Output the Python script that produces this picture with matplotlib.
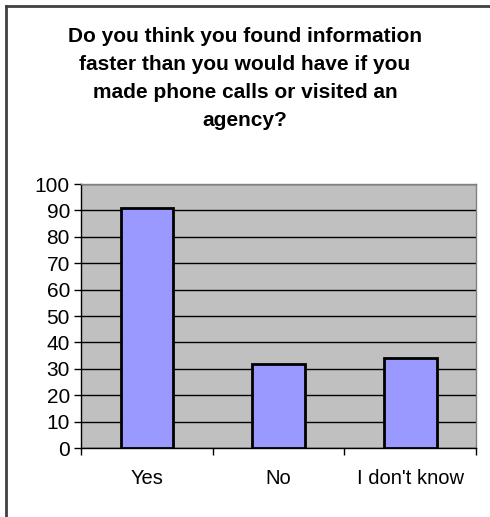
import numpy as np
import matplotlib
matplotlib.use('Agg')
from matplotlib import pyplot as plt
from matplotlib.lines import Line2D

categorias = ['Yes', 'No', "I don't know"]
valores = [91, 32, 34]
titulo = 'Do you think you found information\nfaster than you would have if you\nmade phone calls or visited an\nagency?'

plt.rcParams['font.family'] = ['Liberation Sans', 'DejaVu Sans']

fig = plt.figure(figsize=(4.9, 5.17), dpi=100)
ax = fig.add_axes([81/490, 1-448/517, 395/490, 264/517])

x = np.arange(len(categorias))
ax.set_facecolor('#C0C0C0')
ax.set_axisbelow(True)
ax.yaxis.grid(True, color='black', linewidth=1)
ax.bar(x, valores, width=0.4, color='#9999FF', edgecolor='black', linewidth=2, zorder=3)

ax.set_xlim(-0.5, len(categorias)-0.5)
ax.set_ylim(0, 100)
ax.set_yticks(np.arange(0, 101, 10))

# ticks between categories, labels centered under bars
ax.set_xticks(np.arange(-0.5, len(categorias), 1))
ax.set_xticklabels([])
ax.set_xticks(x, minor=True)
ax.set_xticklabels(categorias, minor=True)
ax.tick_params(axis='x', which='major', direction='out', length=5, width=1, color='black')
ax.tick_params(axis='x', which='minor', length=0, pad=15, labelsize=14.5)
ax.tick_params(axis='y', direction='out', length=5, width=1, labelsize=15, pad=3)

for s in ['top', 'right']:
    ax.spines[s].set_color('#808080')
    ax.spines[s].set_linewidth(1)
for s in ['left', 'bottom']:
    ax.spines[s].set_color('black')
    ax.spines[s].set_linewidth(1)

fig.text(0.5, 1-27/517, titulo, ha='center', va='top', fontsize=15,
         fontweight='bold', linespacing=1.6)

# chart frame
fig.add_artist(Line2D([6/490, 6/490], [0, 1-5.5/517], color='#404040', linewidth=2))
fig.add_artist(Line2D([6/490, 1], [1-5.5/517, 1-5.5/517], color='#404040', linewidth=2))

plt.savefig('out.png', dpi=100)
